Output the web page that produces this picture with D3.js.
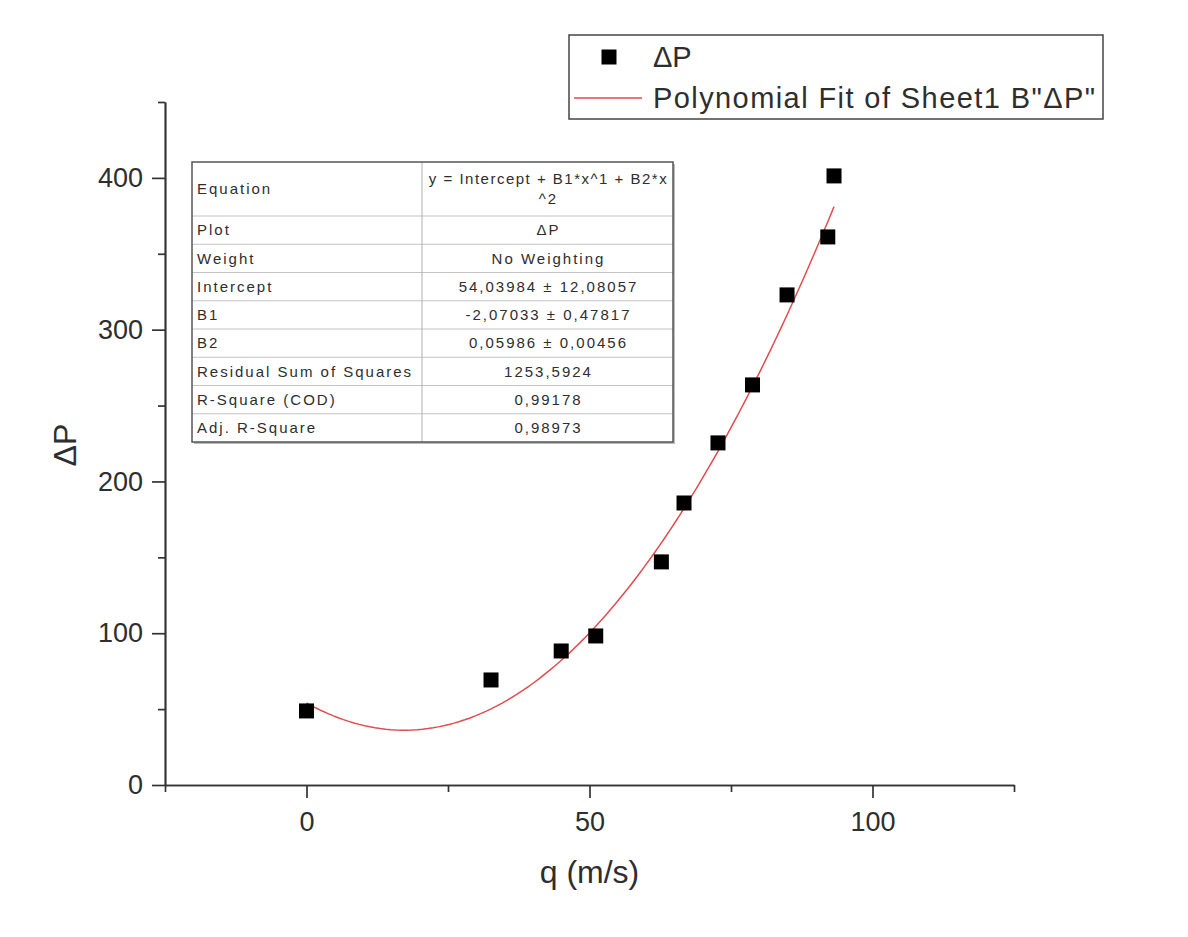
<!DOCTYPE html>
<html>
<head>
<meta charset="utf-8">
<script src="https://cdn.jsdelivr.net/npm/d3@7"></script>
<style>
  body { margin: 0; background: #fff; }
  text { font-family: "Liberation Sans", Arial, sans-serif; fill: #2e2e2e; }
</style>
</head>
<body>
<svg id="chart" width="1188" height="937"></svg>
<script>
"use strict";

var qValues  = [0, 32.6, 45.0, 51.1, 62.7, 66.7, 72.7, 78.8, 84.9, 92.1, 93.2];
var dpValues = [48.8, 69.2, 88.3, 98.2, 147.0, 185.8, 225.4, 263.6, 322.9, 361.1, 401.3];

// coefficients du fit polynomial (Intercept, B1, B2)
var fitCoefs = [54.03984, -2.07033, 0.05986];

var xMajorTicks = [0, 50, 100];
var xMinorTicks = [-25, 25, 75, 125];
var yMajorTicks = [0, 100, 200, 300, 400];
var yMinorTicks = [50, 150, 250, 350, 450];

var tableLabels = ["Equation", "Plot", "Weight", "Intercept", "B1", "B2",
  "Residual Sum of Squares", "R-Square (COD)", "Adj. R-Square"];
var tableValues = [["y = Intercept + B1*x^1 + B2*x", "^2"], ["ΔP"], ["No Weighting"],
  ["54,03984 ± 12,08057"], ["-2,07033 ± 0,47817"], ["0,05986 ± 0,00456"],
  ["1253,5924"], ["0,99178"], ["0,98973"]];

var legendLabels = ["ΔP", "Polynomial Fit of Sheet1 B\"ΔP\""];

var svg = d3.select("#chart");
var axisColor = "#333";
var fitColor = "#e04c4f";

var x = d3.scaleLinear().domain([-25, 125]).range([165, 1014]);
var y = d3.scaleLinear().domain([0, 450]).range([785, 102]);

// axes (majeures puis mineures)
svg.append("g").attr("transform", "translate(0," + y(0) + ")")
  .call(d3.axisBottom(x).tickValues(xMajorTicks).tickSize(13).tickSizeOuter(0).tickPadding(14));
svg.append("g").attr("transform", "translate(0," + y(0) + ")")
  .call(d3.axisBottom(x).tickValues(xMinorTicks).tickSize(7).tickSizeOuter(0).tickFormat(""));

svg.append("g").attr("transform", "translate(" + x(-25) + ",0)")
  .call(d3.axisLeft(y).tickValues(yMajorTicks).tickSize(13).tickSizeOuter(0).tickPadding(9));
svg.append("g").attr("transform", "translate(" + x(-25) + ",0)")
  .call(d3.axisLeft(y).tickValues(yMinorTicks).tickSize(7).tickSizeOuter(0).tickFormat(""));

svg.selectAll(".domain").attr("stroke", axisColor).attr("stroke-width", 1.7);
svg.selectAll(".tick line").attr("stroke", axisColor).attr("stroke-width", 1.7);
svg.selectAll(".tick text").attr("font-size", 27).attr("fill", "#2e2e2e")
  .attr("font-family", "Liberation Sans, Arial, sans-serif");

svg.append("text")
  .attr("x", x(50)).attr("y", 883)
  .attr("text-anchor", "middle")
  .attr("font-size", 32)
  .text("q (m/s)");

svg.append("text")
  .attr("transform", "translate(76," + y(224) + ") rotate(-90)")
  .attr("text-anchor", "middle")
  .attr("font-size", 32)
  .text("ΔP");

// courbe du fit
var xMin = d3.min(qValues), xMax = d3.max(qValues);
var fitPts = d3.range(0, 101).map(function(i) {
  var q = xMin + (xMax - xMin) * i / 100;
  return [q, fitCoefs[0] + fitCoefs[1] * q + fitCoefs[2] * q * q];
});
svg.append("path")
  .datum(fitPts)
  .attr("fill", "none")
  .attr("stroke", fitColor)
  .attr("stroke-width", 1.5)
  .attr("d", d3.line().x(function(d){ return x(d[0]); }).y(function(d){ return y(d[1]); }));

// points
var sq = 15;
svg.selectAll("rect.pt")
  .data(qValues)
  .enter()
  .append("rect")
    .attr("class", "pt")
    .attr("x", function(d) { return x(d) - sq / 2; })
    .attr("y", function(d, i) { return y(dpValues[i]) - sq / 2; })
    .attr("width", sq).attr("height", sq)
    .attr("fill", "#000");

// tableau des résultats
var tblX = 192, tblW = 481, colX = 422, tblY = 162;
var rowH = tableLabels.map(function(d, i) { return i === 0 ? 54 : 28.25; });
var rowY = [tblY];
rowH.forEach(function(h, i) { rowY.push(rowY[i] + h); });
var tblH = rowY[rowY.length - 1] - tblY;
var tbl = svg.append("g");
tbl.append("rect").attr("x", tblX + 2).attr("y", tblY + 2)
  .attr("width", tblW).attr("height", tblH)
  .attr("fill", "#bbb");
tbl.append("rect").attr("x", tblX).attr("y", tblY)
  .attr("width", tblW).attr("height", tblH)
  .attr("fill", "#fff");
tbl.selectAll("line.row")
  .data(rowY.slice(1, -1))
  .enter()
  .append("line")
    .attr("x1", tblX).attr("x2", tblX + tblW)
    .attr("y1", function(d) { return d; }).attr("y2", function(d) { return d; })
    .attr("stroke", "#c4c4c4").attr("stroke-width", 1);
tbl.append("line").attr("x1", colX).attr("x2", colX)
  .attr("y1", tblY).attr("y2", tblY + tblH)
  .attr("stroke", "#b0b0b0").attr("stroke-width", 1);
tbl.append("rect").attr("x", tblX).attr("y", tblY)
  .attr("width", tblW).attr("height", tblH)
  .attr("fill", "none").attr("stroke", "#555").attr("stroke-width", 1.5);

tbl.selectAll("text.lab")
  .data(tableLabels)
  .enter()
  .append("text")
    .attr("x", tblX + 5)
    .attr("y", function(d, i) { return (rowY[i] + rowY[i + 1]) / 2; })
    .attr("dy", "0.35em")
    .attr("font-size", 15)
    .attr("letter-spacing", 2)
    .attr("fill", "#3a3a3a")
    .text(function(d) { return d; });

tableValues.forEach(function(lines, i) {
  var cy = (rowY[i] + rowY[i + 1]) / 2;
  lines.forEach(function(t, j) {
    tbl.append("text")
      .attr("x", (colX + tblX + tblW) / 2 + 1)
      .attr("y", cy + (j - (lines.length - 1) / 2) * 20)
      .attr("dy", "0.35em")
      .attr("text-anchor", "middle")
      .attr("font-size", 15)
      .attr("letter-spacing", j === 0 && i === 0 ? 1.5 : 2)
      .attr("fill", "#3a3a3a")
      .text(t);
  });
});

// légende
var lg = svg.append("g");
lg.append("rect").attr("x", 569).attr("y", 35).attr("width", 534).attr("height", 84)
  .attr("fill", "#fff").attr("stroke", "#444").attr("stroke-width", 1.5);
lg.append("rect").attr("x", 609 - sq / 2).attr("y", 57 - sq / 2)
  .attr("width", sq).attr("height", sq).attr("fill", "#000");
lg.append("line").attr("x1", 574).attr("x2", 642).attr("y1", 98).attr("y2", 98)
  .attr("stroke", fitColor).attr("stroke-width", 1.5);
lg.selectAll("text")
  .data(legendLabels)
  .enter()
  .append("text")
    .attr("x", 653)
    .attr("y", function(d, i) { return i === 0 ? 57 : 98; })
    .attr("dy", "0.35em")
    .attr("font-size", 29)
    .attr("textLength", function(d, i) { return i === 0 ? null : 442; })
    .text(function(d) { return d; });
</script>
</body>
</html>
